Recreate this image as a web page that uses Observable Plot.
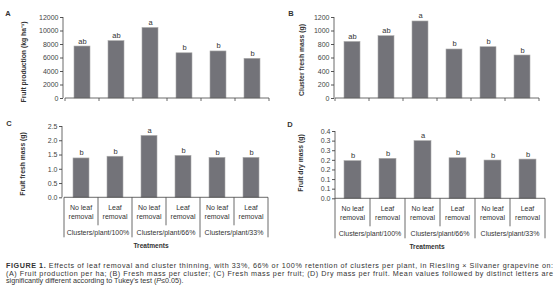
<!DOCTYPE html>
<html><head><meta charset="utf-8">
<script src="https://cdn.jsdelivr.net/npm/d3@7"></script>
<script src="https://cdn.jsdelivr.net/npm/@observablehq/plot@0.6"></script>
<style>
body{margin:0;background:#fff;}
#root{position:relative;width:560px;height:300px;overflow:hidden;font-family:"Liberation Sans",Arial,sans-serif;}
#root svg{position:absolute;overflow:visible;}
</style></head><body><div id="root"></div>
<script>
// ---- data ----
const groups = ["Clusters/plant/100%", "Clusters/plant/66%", "Clusters/plant/33%"];
const leafLabels = ["No leaf\nremoval", "Leaf\nremoval"];
const categories = ["100% no leaf removal", "100% leaf removal", "66% no leaf removal", "66% leaf removal", "33% no leaf removal", "33% leaf removal"];
const fruitProduction = [7700, 8500, 10450, 6700, 6970, 5880];
const clusterFreshMass = [838, 923, 1141, 726, 760, 637];
const fruitFreshMass = [1.38, 1.44, 2.17, 1.47, 1.40, 1.40];
const fruitDryMass = [0.196, 0.208, 0.300, 0.211, 0.199, 0.204];
const lettersA = ["ab", "ab", "a", "b", "b", "b"];
const lettersB = ["ab", "ab", "a", "b", "b", "b"];
const lettersC = ["b", "b", "a", "b", "b", "b"];
const lettersD = ["b", "b", "a", "b", "b", "b"];
const ticksA = [0, 2000, 4000, 6000, 8000, 10000, 12000];
const tickLabelsA = ["0", "2000", "4000", "6000", "8000", "10000", "12000"];
const ticksB = [0, 200, 400, 600, 800, 1000, 1200];
const tickLabelsB = ["0", "200", "400", "600", "800", "1000", "1200"];
const ticksC = [0, 0.5, 1, 1.5, 2, 2.5];
const tickLabelsC = ["0.0", "0.5", "1.0", "1.5", "2.0", "2.5"];
const ticksD = [0, 0.05, 0.1, 0.15, 0.2, 0.25, 0.3, 0.35];
const tickLabelsD = ["0.0", "0.1", "0.1", "0.2", "0.2", "0.3", "0.3", "0.4"];
const captionLines = [
  "Effects of leaf removal and cluster thinning, with 33%, 66% or 100% retention of clusters per plant, in Riesling \u00d7 Silvaner grapevine on:",
  "(A) Fruit production per ha; (B) Fresh mass per cluster; (C) Fresh mass per fruit; (D) Dry mass per fruit. Mean values followed by distinct letters are",
  "significantly different according to Tukey\u2019s test ("
];

// ---- layout ----
const panels = [
  {letter: "A", values: fruitProduction, sig: lettersA, label: "Fruit production (kg ha\u207b\u00b9)", ticks: ticksA, tickLabels: tickLabelsA,
   left: 0, top: 0, width: 280, height: 110, mL: 63, mR: 10, mT: 17, mB: 12, table: false, labelX: 24, labelY: 62, letterX: 8, letterY: 16},
  {letter: "B", values: clusterFreshMass, sig: lettersB, label: "Cluster fresh mass (g)", ticks: ticksB, tickLabels: tickLabelsB,
   left: 280, top: 0, width: 280, height: 110, mL: 54, mR: 20, mT: 17, mB: 12, table: false, labelX: 22, labelY: 60, letterX: 11, letterY: 16},
  {letter: "C", values: fruitFreshMass, sig: lettersC, label: "Fruit fresh mass (g)", ticks: ticksC, tickLabels: tickLabelsC,
   left: 0, top: 110, width: 280, height: 145, mL: 62, mR: 10, mT: 16, mB: 57.7, table: true, labelX: 23, labelY: 54, letterX: 9, letterY: 16, treatX: 151},
  {letter: "D", values: fruitDryMass, sig: lettersD, label: "Fruit dry mass (g)", ticks: ticksD, tickLabels: tickLabelsD,
   left: 280, top: 110, width: 280, height: 145, mL: 55, mR: 15, mT: 21, mB: 56.7, table: true, labelX: 21, labelY: 53, letterX: 10, letterY: 17, treatX: 147}
];

const root = document.getElementById("root");
const ink = "#333";

for (const p of panels) {
  const data = categories.map((c, i) => ({cat: c, value: p.values[i], sig: p.sig[i]}));
  const chart = Plot.plot({
    width: p.width, height: p.height,
    marginLeft: p.mL, marginRight: p.mR, marginTop: p.mT, marginBottom: p.mB,
    style: {fontFamily: "Liberation Sans, Arial, sans-serif", fontSize: "7px", color: "#444", background: "transparent"},
    x: {domain: categories, padding: 0, axis: null},
    y: {domain: [p.ticks[0], p.ticks[p.ticks.length - 1]], axis: null},
    marks: [
      Plot.barY(data, {x: "cat", y: "value", fill: "#737379", stroke: "#acacac", strokeWidth: 0.6, insetLeft: 9, insetRight: 9}),
      Plot.text(data, {x: "cat", y: "value", text: "sig", dy: -3, lineAnchor: "bottom", fontSize: 7.5, fill: ink}),
      Plot.axisY(p.ticks, {tickSize: 3, tickPadding: 2, fontSize: 7, stroke: "#555", label: null,
        tickFormat: d => p.tickLabels[p.ticks.indexOf(d)]})
    ]
  });
  chart.style.left = p.left + "px";
  chart.style.top = p.top + "px";
  root.appendChild(chart);

  const svg = d3.select(chart);
  const sx = chart.scale("x"), sy = chart.scale("y");
  const bw = sx.bandwidth ?? (sx.apply(categories[1]) - sx.apply(categories[0]));
  const edges = categories.map(c => sx.apply(c)).concat([sx.apply(categories[categories.length - 1]) + bw]);
  const y0 = sy.apply(0), yTop = sy.apply(p.ticks[p.ticks.length - 1]);
  const g = svg.append("g").attr("stroke", "#444").attr("stroke-width", 0.8).attr("fill", "none");
  // axis lines
  g.append("line").attr("x1", p.mL).attr("x2", p.mL).attr("y1", yTop).attr("y2", y0);
  g.append("line").attr("x1", edges[0]).attr("x2", edges[edges.length - 1]).attr("y1", y0).attr("y2", y0);
  if (!p.table) {
    edges.forEach(e => g.append("line").attr("x1", e).attr("x2", e).attr("y1", y0).attr("y2", y0 + 3));
  } else {
    edges.forEach((e, k) => g.append("line").attr("x1", e).attr("x2", e).attr("y1", y0).attr("y2", y0 + (k % 2 === 0 ? 40 : 28)));
    const t = svg.append("g").attr("fill", ink).attr("font-size", 7).attr("text-anchor", "middle");
    categories.forEach((c, i) => {
      const cx = sx.apply(c) + bw / 2;
      leafLabels[i % 2].split("\n").forEach((line, j) =>
        t.append("text").attr("x", cx).attr("y", y0 + 12.3 + j * 9.5).text(line));
    });
    groups.forEach((gr, j) => {
      t.append("text").attr("x", edges[2 * j + 1]).attr("y", y0 + 38).text(gr);
    });
    t.append("text").attr("x", p.treatX).attr("y", y0 + 51).attr("font-weight", "bold").attr("font-size", 6.6).text("Treatments");
  }
  // y label
  svg.append("text").attr("transform", `translate(${p.labelX},${p.labelY}) rotate(-90)`)
    .attr("text-anchor", "middle").attr("font-size", 6.8).attr("font-weight", "bold")
    .attr("font-family", "Liberation Sans Narrow, Liberation Sans, Arial, sans-serif")
    .attr("fill", ink).attr("dy", "0.35em").text(p.label);
  // panel letter
  svg.append("text").attr("x", p.letterX).attr("y", p.letterY).attr("font-size", 7.5).attr("font-weight", "bold")
    .attr("fill", ink).text(p.letter);
}

// caption
const cap = d3.select(root).append("svg").attr("width", 560).attr("height", 42)
  .style("left", "0px").style("top", "256px")
  .attr("font-family", "Liberation Sans, Arial, sans-serif").attr("font-size", 7.2).attr("fill", "#333");
const l1 = cap.append("text").attr("x", 6).attr("y", 12).attr("textLength", 547).attr("lengthAdjust", "spacing");
l1.append("tspan").attr("font-weight", "bold").text("FIGURE 1. ");
l1.append("tspan").text(captionLines[0]);
cap.append("text").attr("x", 6).attr("y", 19.6).attr("textLength", 547).attr("lengthAdjust", "spacing").text(captionLines[1]);
const l3 = cap.append("text").attr("x", 6).attr("y", 27.2);
l3.append("tspan").text(captionLines[2]);
l3.append("tspan").attr("font-style", "italic").text("P");
l3.append("tspan").text("\u22640.05).");
</script></body></html>
